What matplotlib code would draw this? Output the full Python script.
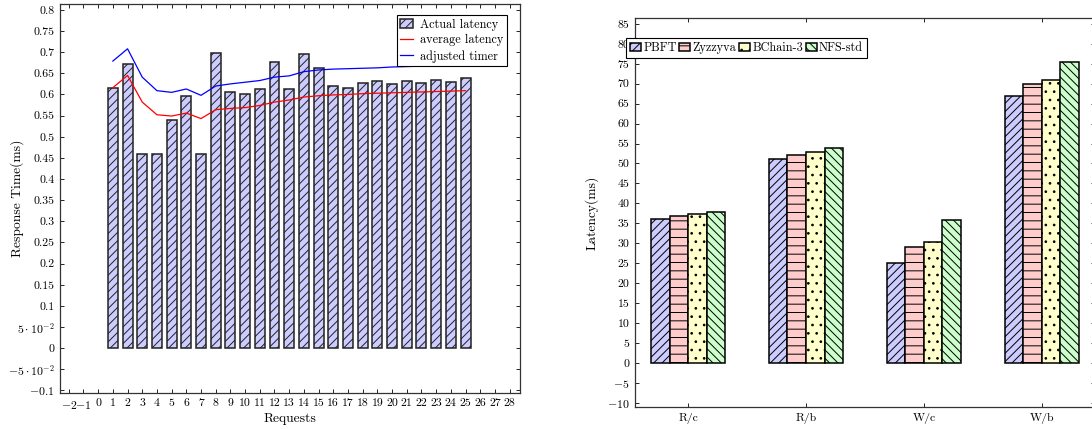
import numpy as np
import matplotlib
matplotlib.use("Agg")
import matplotlib.pyplot as plt

plt.rcParams["font.family"] = "serif"
plt.rcParams["font.serif"] = ["cmr10"]
plt.rcParams["mathtext.fontset"] = "cm"
plt.rcParams["axes.unicode_minus"] = False
plt.rcParams["hatch.linewidth"] = 0.7

# left panel: response time per request
requests = np.arange(1, 26)
actual_latency = [0.616, 0.673, 0.459, 0.460, 0.539, 0.597, 0.460, 0.698, 0.607, 0.601,
                  0.612, 0.676, 0.612, 0.696, 0.662, 0.621, 0.616, 0.626, 0.631, 0.624,
                  0.632, 0.627, 0.634, 0.630, 0.638]
average_latency = [0.616, 0.645, 0.582, 0.552, 0.549, 0.556, 0.543, 0.564, 0.567, 0.569,
                   0.574, 0.582, 0.587, 0.594, 0.597, 0.599, 0.600, 0.602, 0.603, 0.604,
                   0.605, 0.606, 0.607, 0.608, 0.609]
adjusted_timer = [0.679, 0.708, 0.641, 0.609, 0.605, 0.613, 0.598, 0.620, 0.625, 0.629,
                  0.633, 0.641, 0.644, 0.654, 0.658, 0.660, 0.661, 0.662, 0.663, 0.665,
                  0.666, 0.667, 0.667, 0.668, 0.668]

# right panel: latency per workload
workloads = ["R/c", "R/b", "W/c", "W/b"]
systems = ["PBFT", "Zyzzyva", "BChain-3", "NFS-std"]
latency = {
    "PBFT": [36.0, 51.1, 25.0, 66.9],
    "Zyzzyva": [36.8, 52.1, 29.1, 70.0],
    "BChain-3": [37.2, 52.9, 30.2, 71.0],
    "NFS-std": [37.7, 53.9, 35.8, 75.4],
}
colors = ["#ccccff", "#ffcccc", "#ffffcc", "#ccffcc"]
hatches = ["////", "--", "..", "\\\\\\\\"]

fig = plt.figure(figsize=(10.92, 4.29), dpi=100)
fs = 8.5
lfs = 9.7

# ---- left
ax1 = fig.add_axes([0.0549, 0.0839, 0.4212, 0.9068])
bars = ax1.bar(requests, actual_latency, width=0.68, color="#ccccff", edgecolor="#222222",
               linewidth=1.1, hatch="////", label="Actual latency", zorder=2)
l_avg, = ax1.plot(requests, average_latency, color="red", linewidth=0.9,
                  label="average latency", zorder=3)
l_adj, = ax1.plot(requests, adjusted_timer, color="blue", linewidth=0.9,
                  label="adjusted timer", zorder=3)
ax1.set_xlim(-2.6, 28.7)
ax1.set_ylim(-0.106, 0.814)
xt = np.arange(-2, 29)
ax1.set_xticks(xt)
ax1.set_xticklabels([f"${v}$" if v < 0 else str(v) for v in xt], fontsize=fs)
yt = np.round(np.arange(-0.1, 0.8001, 0.05), 2)
ylabels = []
for v in yt:
    if abs(v - 0.05) < 1e-9:
        ylabels.append(r"$5\cdot10^{-2}$")
    elif abs(v + 0.05) < 1e-9:
        ylabels.append(r"$-5\cdot10^{-2}$")
    elif v < 0:
        ylabels.append(f"${v:g}$")
    else:
        ylabels.append(f"{v:g}")
ax1.set_yticks(yt)
ax1.set_yticklabels(ylabels, fontsize=fs)
ax1.set_xlabel("Requests", fontsize=lfs, labelpad=2)
ax1.set_ylabel("Response Time(ms)", fontsize=lfs)
ax1.yaxis.set_label_coords(-0.078, 0.5)
leg1 = ax1.legend([bars, l_avg, l_adj], ["Actual latency", "average latency", "adjusted timer"],
                  loc="upper right", bbox_to_anchor=(0.972, 0.972), borderaxespad=0,
                  fontsize=fs + 0.3, fancybox=False, edgecolor="black", framealpha=1,
                  handlelength=1.0, handletextpad=0.6, borderpad=0.3, labelspacing=0.3)
leg1.get_frame().set_linewidth(0.8)

# ---- right
ax2 = fig.add_axes([0.5815, 0.0513, 0.4212, 0.9068])
x = np.arange(len(workloads))
w = 0.157
for i, s in enumerate(systems):
    ax2.bar(x + (i - 1.5) * w, latency[s], width=w, color=colors[i], edgecolor="black",
            linewidth=1.1, hatch=hatches[i], label=s, zorder=2)
ax2.set_xlim(-0.45, 3.45)
ax2.set_ylim(-11.1, 86.5)
ax2.set_xticks(x)
ax2.set_xticklabels(workloads, fontsize=fs)
yt2 = np.arange(-10, 86, 5)
ax2.set_yticks(yt2)
ax2.set_yticklabels([f"${v}$" if v < 0 else str(v) for v in yt2], fontsize=fs)
ax2.set_ylabel("Latency(ms)", fontsize=lfs)
ax2.yaxis.set_label_coords(-0.078, 0.5)
leg2 = ax2.legend(loc="upper left", bbox_to_anchor=(-0.02, 0.949), borderaxespad=0, ncol=4,
                  fontsize=fs + 0.3, fancybox=False, edgecolor="black", framealpha=1,
                  handlelength=0.9, handletextpad=0.2, columnspacing=0.2, borderpad=0.35)
leg2.get_frame().set_linewidth(0.8)

for ax in (ax1, ax2):
    ax.tick_params(direction="in", top=True, right=True, length=3, width=0.6, pad=4)
    for sp in ax.spines.values():
        sp.set_linewidth(0.9)
        sp.set_color("#333333")

fig.savefig("out.png", dpi=100)
